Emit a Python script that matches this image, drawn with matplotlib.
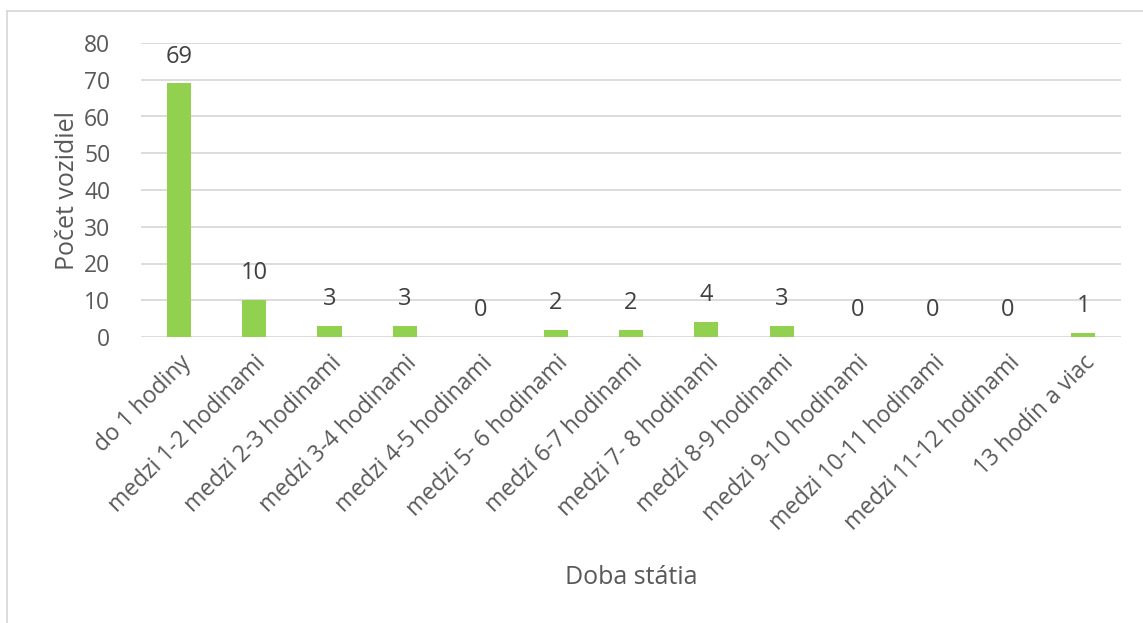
import matplotlib.pyplot as plt
from matplotlib.lines import Line2D

kategorie = ['do 1 hodiny', 'medzi 1-2 hodinami', 'medzi 2-3 hodinami', 'medzi 3-4 hodinami',
             'medzi 4-5 hodinami', 'medzi 5- 6 hodinami', 'medzi 6-7 hodinami', 'medzi 7- 8 hodinami',
             'medzi 8-9 hodinami', 'medzi 9-10 hodinami', 'medzi 10-11 hodinami',
             'medzi 11-12 hodinami', '13 hodín a viac']
pocet = [69, 10, 3, 3, 0, 2, 2, 4, 3, 0, 0, 0, 1]
y_ticks = [0, 10, 20, 30, 40, 50, 60, 70, 80]

sirka, vyska = 1143, 623
sivy = '#595959'
plt.rcParams['font.family'] = ['Open Sans', 'DejaVu Sans']

fig = plt.figure(figsize=(sirka / 100, vyska / 100), dpi=100)
ax = fig.add_axes([141 / sirka, 1 - 337 / vyska, (1121 - 141) / sirka, (337 - 43) / vyska])

x = range(len(kategorie))
ax.bar(x, pocet, width=0.32, color='#92D050', zorder=3)
for i, v in enumerate(pocet):
    ax.text(i, v + 7.3, str(v), ha='center', va='center', fontsize=17, color='#404040')

ax.set_xlim(-0.5, len(kategorie) - 0.5)
ax.set_ylim(0, 80)
ax.set_yticks(y_ticks)
ax.grid(axis='y', color='#D9D9D9', linewidth=1.3, zorder=0)
for s in ax.spines.values():
    s.set_visible(False)
ax.tick_params(length=0, labelsize=16.5, colors=sivy)
ax.tick_params(axis='y', pad=22)
ax.set_xticks(list(x))
ax.set_xticklabels(kategorie, rotation=45, ha='right', rotation_mode='anchor')
ax.tick_params(axis='x', pad=10)
ax.set_ylabel('Počet vozidiel', fontsize=18, color=sivy, labelpad=3)
fig.text(631 / sirka, 1 - 577 / vyska, 'Doba státia', ha='center', va='center',
         fontsize=18, color=sivy)

# ramik grafu
fig.add_artist(Line2D([7 / sirka, 1], [1 - 11 / vyska, 1 - 11 / vyska], color='#D9D9D9', linewidth=1.3))
fig.add_artist(Line2D([7 / sirka, 7 / sirka], [0, 1 - 11 / vyska], color='#D9D9D9', linewidth=1.3))

plt.savefig('out.png', dpi=100)
